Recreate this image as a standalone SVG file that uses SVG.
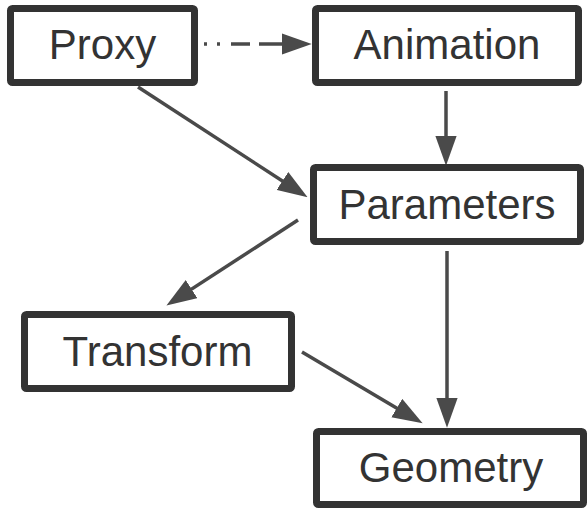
<svg xmlns="http://www.w3.org/2000/svg" width="587" height="509" viewBox="0 0 587 509">
<defs>
<style>
.box{fill:#fff;stroke:#333;stroke-width:7}
.lbl{font-family:"Liberation Sans",Arial,sans-serif;font-size:42px;fill:#333;text-anchor:middle}
.edge{fill:none;stroke:#4a4a4a;stroke-width:3.5}
</style>
<marker id="arr" markerUnits="userSpaceOnUse" markerWidth="30" markerHeight="22" refX="18" refY="10" orient="auto" viewBox="0 0 28 20">
<path d="M0,0 L28,10 L0,20 z" fill="#4a4a4a"/>
</marker>
</defs>
<rect width="587" height="509" fill="#fff"/>
<g id="connectors">
<path class="edge" d="M204,44 L301,44" stroke-dasharray="3 10 3 11 19 9 50" marker-end="url(#arr)"/>
<path class="edge" d="M446,91 L446,155" marker-end="url(#arr)"/>
<path class="edge" d="M138,87 L298.6,191.5" marker-end="url(#arr)"/>
<path class="edge" d="M298,220 L175.4,299.6" marker-end="url(#arr)"/>
<path class="edge" d="M447,251 L447,417" marker-end="url(#arr)"/>
<path class="edge" d="M302,352 L413.4,417.9" marker-end="url(#arr)"/>
</g>
<g id="proxy">
<rect class="box" x="10.5" y="8.5" width="184" height="74" rx="2"/>
<text class="lbl" x="102.5" y="59">Proxy</text>
</g>
<g id="animation">
<rect class="box" x="315.5" y="8.5" width="263" height="74" rx="2"/>
<text class="lbl" x="447" y="59">Animation</text>
</g>
<g id="parameters">
<rect class="box" x="313.5" y="167.5" width="267" height="74" rx="2"/>
<text class="lbl" x="447" y="219">Parameters</text>
</g>
<g id="transform">
<rect class="box" x="24.5" y="314.5" width="267" height="74" rx="2"/>
<text class="lbl" x="157.5" y="366">Transform</text>
</g>
<g id="geometry">
<rect class="box" x="316.5" y="431.5" width="267" height="73" rx="2"/>
<text class="lbl" x="451" y="482">Geometry</text>
</g>
</svg>
